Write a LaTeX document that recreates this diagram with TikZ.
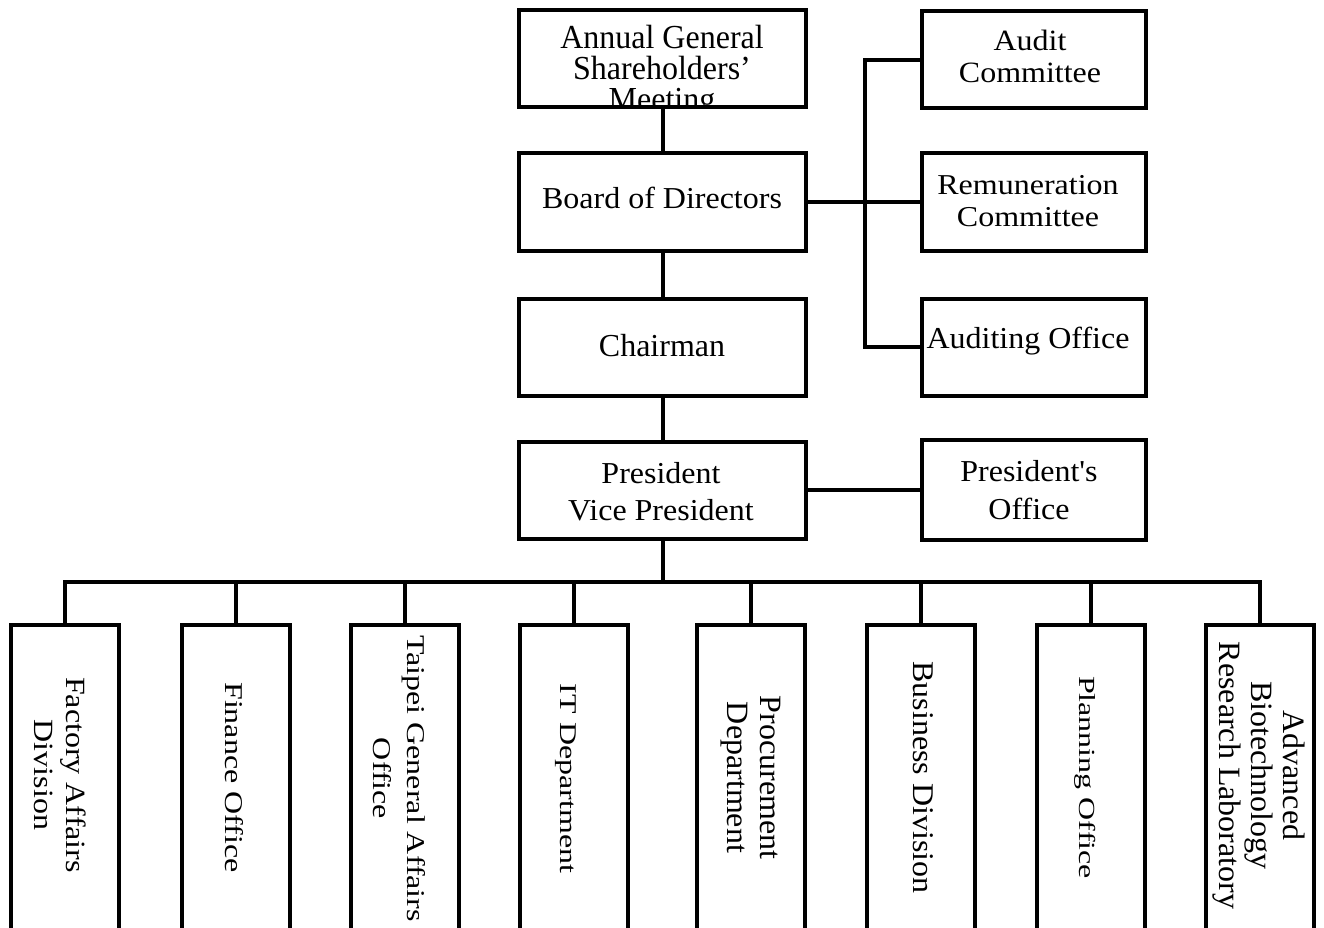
\documentclass[tikz,border=0pt]{standalone}
\usepackage{fontspec}
\setmainfont{Liberation Serif}
\usepackage{graphicx}
\newcommand\stk[2]{\vbox{\baselineskip=#1pt\lineskiplimit=-\maxdimen\halign{\hfil##\hfil\cr#2\crcr}}}
\newcommand\lbl[3]{\scalebox{1}[#1]{\stk{#2}{#3}}}
\begin{document}
\begin{tikzpicture}[x=1pt,y=-1pt,
  mbox/.style={draw, line width=4pt, inner sep=0pt, minimum width=287pt, minimum height=97pt},
  rbox/.style={draw, line width=4pt, inner sep=0pt, minimum width=224pt, minimum height=97pt},
  dbox/.style={draw, line width=4pt, inner sep=0pt, minimum width=108pt, minimum height=310pt},
  txt/.style={inner sep=0pt, font=\fontsize{32}{32}\selectfont},
  vtxt/.style={txt, rotate=-90},
  link/.style={line width=4pt}]
\useasboundingbox (0,0) rectangle (1324,928);
% main column
\node[mbox] (agm) at (662.5,59) {};
\node[mbox] (bod) at (662.5,202) {};
\node[mbox] (ch) at (662.5,347) {};
\node[mbox] (pr) at (662.5,490) {};
% right column
\node[rbox] (ac) at (1034,60) {};
\node[rbox] (rc) at (1034,202) {};
\node[rbox] (ao) at (1034,347) {};
\node[rbox, minimum height=100pt] (po) at (1034,490) {};
% bottom row
\node[dbox] (b1) at (64.5,780) {};
\node[dbox] (b2) at (236,780) {};
\node[dbox] (b3) at (405,780) {};
\node[dbox] (b4) at (573.5,780) {};
\node[dbox] (b5) at (750.5,780) {};
\node[dbox] (b6) at (921,780) {};
\node[dbox] (b7) at (1091,780) {};
\node[dbox] (b8) at (1260,780) {};
% texts
\begin{scope}
\clip (521,12) rectangle (804,106);
\node[txt] (agm-t) at (662,71) {\lbl{1.05}{29.5}{Annual General\cr Shareholders’\cr Meeting}};
\end{scope}
\node[txt] (bod-t) at (662,197.5) {\lbl{0.95}{32}{Board of Directors}};
\node[txt] (ch-t) at (662,346) {\lbl{1.0}{32}{Chairman}};
\node[txt] (pr-t) at (661,492) {\lbl{0.95}{39}{President\cr Vice President}};
\node[txt] (ac-t) at (1030,56) {\lbl{0.92}{34.8}{Audit\cr Committee}};
\node[txt] (rc-t) at (1028,201) {\lbl{0.9}{35.5}{Remuneration\cr Committee}};
\node[txt] (ao-t) at (1028,341) {\lbl{0.95}{32}{Auditing Office}};
\node[txt] (po-t) at (1029,490.5) {\lbl{0.95}{40}{President\textquotesingle s\cr Office}};
\node[vtxt] (b1-t) at (60,775) {\lbl{0.87}{36.2}{Factory Affairs\cr Division}};
\node[vtxt] (b2-t) at (234,777.5) {\lbl{0.8}{32}{Finance Office}};
\node[vtxt] (b3-t) at (399,778.5) {\lbl{0.8}{42.5}{Taipei General Affairs\cr Office}};
\node[vtxt] (b4-t) at (566,778.5) {\lbl{0.75}{32}{IT Department}};
\node[vtxt] (b5-t) at (751,777.5) {\lbl{0.97}{34}{Procurement\cr Department}};
\node[vtxt] (b6-t) at (923.5,777.5) {\lbl{0.94}{32}{Business Division}};
\node[vtxt] (b7-t) at (1085.5,777.5) {\lbl{0.72}{32}{Planning Office}};
\node[vtxt] (b8-t) at (1258.5,775.5) {\lbl{0.97}{33}{Advanced\cr Biotechnology\cr Research Laboratory}};
% connectors
\draw[link] (agm.south) -- (bod.north);
\draw[link] (bod.south) -- (ch.north);
\draw[link] (ch.south) -- (pr.north);
\coordinate (bus) at (662.5,582);
\draw[link] (pr.south) -- (bus);
\draw[link] (b1.north) |- (bus) -| (b8.north);
\foreach \i in {2,...,7}{\draw[link] (b\i.north) -- (b\i.north |- bus);}
\coordinate (vb) at (865,202);
\draw[link] (bod.east) -- (rc.west);
\draw[link] (ac.west) -| (vb) |- (ao.west);
\draw[link] (pr.east) -- (po.west);
\end{tikzpicture}
\end{document}
